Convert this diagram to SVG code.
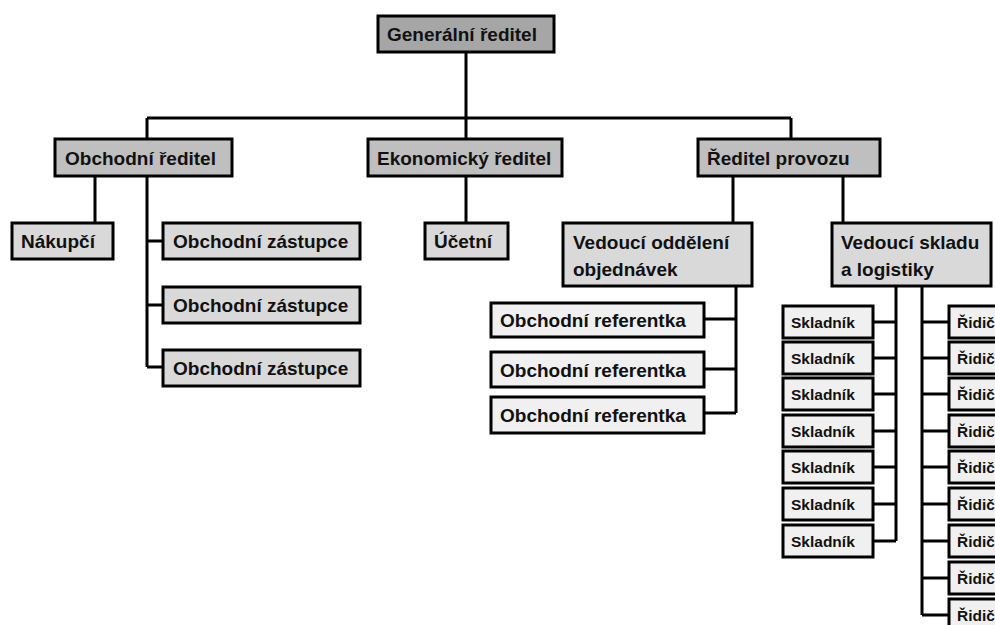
<svg xmlns="http://www.w3.org/2000/svg" width="995" height="625" viewBox="0 0 995 625">
<style>
.n rect{stroke:#000;stroke-width:3}
.l1{fill:#a6a6a6}.l2{fill:#bfbfbf}.l3{fill:#d9d9d9}.l4{fill:#f0f0f0}
text{font-family:"Liberation Sans",Arial,sans-serif;font-weight:bold;font-size:19px;fill:#111}
.s{font-size:15.5px}
#conn path{fill:none;stroke:#000;stroke-width:3}
</style>
<rect width="995" height="625" fill="#fff"/>
<g id="conn">
<path d="M466 52V118M147 118H791M147 118V139M466 118V139M791 118V139"/>
<path d="M95 176V223M147 176V367M147 241H163M147 305H163M147 367H163"/>
<path d="M466 176V223"/>
<path d="M733 176V223M843 176V223"/>
<path d="M736 286V413M736 319H704M736 369H704M736 413H704"/>
<path d="M896 286V541M896 322H873M896 358H873M896 394H873M896 431H873M896 467H873M896 504H873M896 541H873"/>
<path d="M922 286V615M922 322H949M922 358H949M922 394H949M922 431H949M922 467H949M922 504H949M922 541H949M922 578H949M922 615H949"/>
</g>
<g class="n" id="n-gen"><rect class="l1" x="378" y="16" width="176" height="36"/><text x="387" y="41">Generální ředitel</text></g>
<g class="n" id="n-obch"><rect class="l2" x="55" y="139" width="177" height="37"/><text x="65" y="165">Obchodní ředitel</text></g>
<g class="n" id="n-ekon"><rect class="l2" x="368" y="139" width="194" height="37"/><text x="377" y="165">Ekonomický ředitel</text></g>
<g class="n" id="n-prov"><rect class="l2" x="698" y="139" width="182" height="37"/><text x="707" y="165">Ředitel provozu</text></g>
<g class="n" id="n-nak"><rect class="l3" x="12" y="223" width="101" height="36"/><text x="21" y="248">Nákupčí</text></g>
<g class="n" id="n-oz1"><rect class="l3" x="163" y="223" width="197" height="36"/><text x="173" y="248">Obchodní zástupce</text></g>
<g class="n" id="n-oz2"><rect class="l3" x="163" y="287" width="197" height="36"/><text x="173" y="312">Obchodní zástupce</text></g>
<g class="n" id="n-oz3"><rect class="l3" x="163" y="350" width="197" height="36"/><text x="173" y="375">Obchodní zástupce</text></g>
<g class="n" id="n-uce"><rect class="l3" x="425" y="223" width="83" height="36"/><text x="434" y="248">Účetní</text></g>
<g class="n" id="n-vod"><rect class="l3" x="563" y="223" width="189" height="63"/><text x="573" y="249">Vedoucí oddělení</text><text x="573" y="276">objednávek</text></g>
<g class="n" id="n-vsl"><rect class="l3" x="832" y="223" width="159" height="63"/><text x="841" y="249">Vedoucí skladu</text><text x="841" y="276">a logistiky</text></g>
<g class="n" id="n-or1"><rect class="l4" x="491" y="303" width="213" height="34"/><text x="500" y="327">Obchodní referentka</text></g>
<g class="n" id="n-or2"><rect class="l4" x="491" y="352" width="213" height="35"/><text x="500" y="377">Obchodní referentka</text></g>
<g class="n" id="n-or3"><rect class="l4" x="491" y="397" width="213" height="36"/><text x="500" y="422">Obchodní referentka</text></g>
<g class="n" id="n-sk1"><rect class="l4" x="783" y="306" width="90" height="32"/><text class="s" x="791" y="328">Skladník</text></g>
<g class="n" id="n-sk2"><rect class="l4" x="783" y="342" width="90" height="32"/><text class="s" x="791" y="364">Skladník</text></g>
<g class="n" id="n-sk3"><rect class="l4" x="783" y="378" width="90" height="32"/><text class="s" x="791" y="400">Skladník</text></g>
<g class="n" id="n-sk4"><rect class="l4" x="783" y="415" width="90" height="32"/><text class="s" x="791" y="437">Skladník</text></g>
<g class="n" id="n-sk5"><rect class="l4" x="783" y="451" width="90" height="32"/><text class="s" x="791" y="473">Skladník</text></g>
<g class="n" id="n-sk6"><rect class="l4" x="783" y="488" width="90" height="32"/><text class="s" x="791" y="510">Skladník</text></g>
<g class="n" id="n-sk7"><rect class="l4" x="783" y="525" width="90" height="32"/><text class="s" x="791" y="547">Skladník</text></g>
<g class="n" id="n-r1"><rect class="l4" x="949" y="306" width="60" height="32"/><text class="s" x="957" y="328">Řidič</text></g>
<g class="n" id="n-r2"><rect class="l4" x="949" y="342" width="60" height="32"/><text class="s" x="957" y="364">Řidič</text></g>
<g class="n" id="n-r3"><rect class="l4" x="949" y="378" width="60" height="32"/><text class="s" x="957" y="400">Řidič</text></g>
<g class="n" id="n-r4"><rect class="l4" x="949" y="415" width="60" height="32"/><text class="s" x="957" y="437">Řidič</text></g>
<g class="n" id="n-r5"><rect class="l4" x="949" y="451" width="60" height="32"/><text class="s" x="957" y="473">Řidič</text></g>
<g class="n" id="n-r6"><rect class="l4" x="949" y="488" width="60" height="32"/><text class="s" x="957" y="510">Řidič</text></g>
<g class="n" id="n-r7"><rect class="l4" x="949" y="525" width="60" height="32"/><text class="s" x="957" y="547">Řidič</text></g>
<g class="n" id="n-r8"><rect class="l4" x="949" y="562" width="60" height="32"/><text class="s" x="957" y="584">Řidič</text></g>
<g class="n" id="n-r9"><rect class="l4" x="949" y="599" width="60" height="32"/><text class="s" x="957" y="621">Řidič</text></g>
</svg>
